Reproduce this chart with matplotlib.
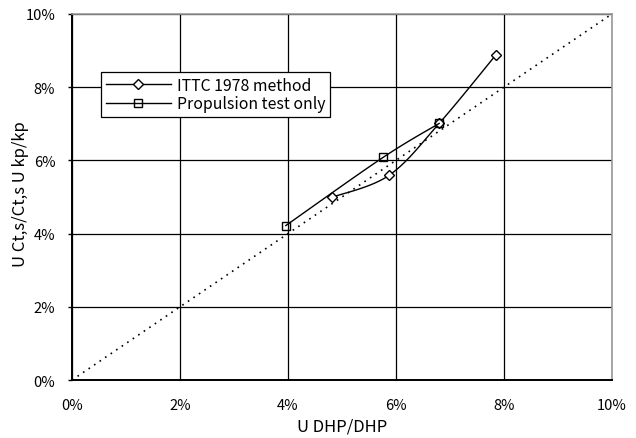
import numpy as np
import matplotlib
matplotlib.use("Agg")
import matplotlib.pyplot as plt
from matplotlib.ticker import FuncFormatter

plt.rcParams['font.family'] = ['Noto Sans CJK JP', 'DejaVu Sans']

# ---- values (percent) ----
ittc_x = [4.81, 5.87, 6.80, 7.85]
ittc_y = [4.99, 5.59, 7.01, 8.88]
prop_x = [3.96, 5.76, 6.80]
prop_y = [4.22, 6.08, 7.01]
diag_x = [0, 10]
diag_y = [0, 10]
ticks = [0, 2, 4, 6, 8, 10]


def smooth(xs, ys, n=30):
    """Catmull-Rom pass through the points, like the spreadsheet's smoothed line."""
    p = np.column_stack([xs, ys]).astype(float)
    p = np.vstack([p[0], p, p[-1]])
    out = []
    t = np.linspace(0, 1, n)[:, None]
    for i in range(1, len(p) - 2):
        p0, p1, p2, p3 = p[i - 1], p[i], p[i + 1], p[i + 2]
        seg = 0.5 * ((2 * p1) + (-p0 + p2) * t + (2 * p0 - 5 * p1 + 4 * p2 - p3) * t ** 2
                     + (-p0 + 3 * p1 - 3 * p2 + p3) * t ** 3)
        out.append(seg)
    s = np.vstack(out)
    return s[:, 0], s[:, 1]


fig = plt.figure(figsize=(6.36, 4.39), dpi=100)
ax = fig.add_axes([0.1132, 0.132, 0.849, 0.834])

ax.set_xlim(0, 10)
ax.set_ylim(0, 10)
ax.set_xticks(ticks)
ax.set_yticks(ticks)
ax.grid(True, color="black", lw=0.9)
ax.set_axisbelow(True)

ax.plot(diag_x, diag_y, ls=(0, (1, 3)), color="black", lw=1.2)

sx, sy = smooth(ittc_x, ittc_y)
ax.plot(sx, sy, color="black", lw=1)
ax.plot(ittc_x, ittc_y, ls="none", marker="D", ms=5, mfc="white", mec="black", mew=1)
px, py = smooth(prop_x, prop_y)
ax.plot(px, py, color="black", lw=1)
ax.plot(prop_x, prop_y, ls="none", marker="s", ms=6, mfc="none", mec="black", mew=1)

# legend proxies
ax.plot([], [], color="black", lw=1, marker="D", ms=5, mfc="white", mec="black",
        label="ITTC 1978 method")
ax.plot([], [], color="black", lw=1, marker="s", ms=6, mfc="none", mec="black",
        label="Propulsion test only")
leg = ax.legend(loc="upper left", bbox_to_anchor=(0.054, 0.842), fontsize=11.4,
                frameon=True, fancybox=False, edgecolor="black", framealpha=1,
                borderpad=0.3, labelspacing=0.1, handlelength=4.1, handletextpad=0.4,
                borderaxespad=0)
leg.get_frame().set_linewidth(0.9)

pct = FuncFormatter(lambda v, _: f"{v:.0f}%")
ax.xaxis.set_major_formatter(pct)
ax.yaxis.set_major_formatter(pct)
ax.tick_params(axis="both", labelsize=10.5, length=3, width=1, direction="out")
ax.tick_params(axis="x", pad=13, length=0)
ax.tick_params(axis="y", pad=9)

for side in ("left", "bottom"):
    ax.spines[side].set_linewidth(1.4)
    ax.spines[side].set_color("black")
for side in ("top", "right"):
    ax.spines[side].set_linewidth(1.2)
    ax.spines[side].set_color("#999999")

ax.set_xlabel("U DHP/DHP", fontsize=12, labelpad=4)
ax.set_ylabel("U Ct,s/Ct,s U kp/kp", fontsize=12)
ax.yaxis.set_label_coords(-0.08, 0.51)

fig.savefig("out.png", dpi=100)
